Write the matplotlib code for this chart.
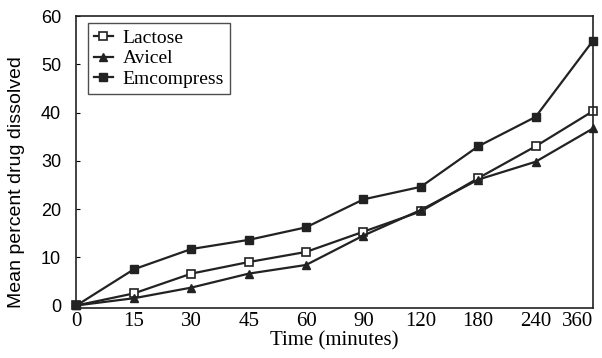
import matplotlib.pyplot as plt
import numpy as np

plt.rcParams['font.family'] = ['Liberation Serif', 'DejaVu Serif']

times = ['0', '15', '30', '45', '60', '90', '120', '180', '240', '360']
lactose = [0, 2.5, 6.6, 9.0, 11.1, 15.3, 19.5, 26.4, 33.0, 40.3]
avicel = [0, 1.5, 3.7, 6.6, 8.4, 14.5, 19.8, 26.1, 29.8, 36.7]
emcompress = [0, 7.5, 11.7, 13.6, 16.2, 22.0, 24.6, 33.0, 39.1, 54.9]

fig = plt.figure(figsize=(6.02, 3.58), dpi=100)
ax = fig.add_axes([0.127, 0.14, 0.858, 0.815])

x = np.arange(len(times))
ax.plot(x, lactose, 's-', color='#222222', mfc='white', mec='#222222',
        markersize=5.5, markeredgewidth=1.2, linewidth=1.6, label='Lactose', clip_on=False)
ax.plot(x, avicel, '^-', color='#222222', markersize=5.5, linewidth=1.6,
        label='Avicel', clip_on=False)
ax.plot(x, emcompress, 's-', color='#222222', markersize=6.2, linewidth=1.6,
        label='Emcompress', clip_on=False)

ax.set_xlim(0, len(times) - 1)
ax.set_ylim(-0.5, 60)
ax.set_xticks(x)
ax.set_xticklabels(times)
ax.set_yticks([0, 10, 20, 30, 40, 50, 60])
ax.tick_params(axis='both', direction='in', length=3)
ax.tick_params(axis='x', length=0, pad=3, labelsize=15)
ax.tick_params(axis='y', pad=11)
for lbl in ax.get_yticklabels():
    lbl.set_fontfamily('Liberation Sans')
    lbl.set_fontsize(13)
# last x label sits left of the spine, as in the reference
ax.get_xticklabels()[-1].set_horizontalalignment('right')
for s in ax.spines.values():
    s.set_linewidth(1.2)
    s.set_color('#222222')

ax.set_xlabel('Time (minutes)', fontsize=15, labelpad=0)
ax.set_ylabel('Mean percent drug dissolved', fontsize=14, family='Liberation Sans')
ax.yaxis.set_label_coords(-0.10, 0.43)

leg = ax.legend(loc='upper left', bbox_to_anchor=(0.022, 0.975), fontsize=14,
                frameon=True, fancybox=False, edgecolor='#222222',
                handlelength=1.0, handletextpad=0.5, borderpad=0.3,
                labelspacing=0.15, borderaxespad=0)
leg.get_frame().set_linewidth(1.0)

fig.savefig('out.png', dpi=100)
